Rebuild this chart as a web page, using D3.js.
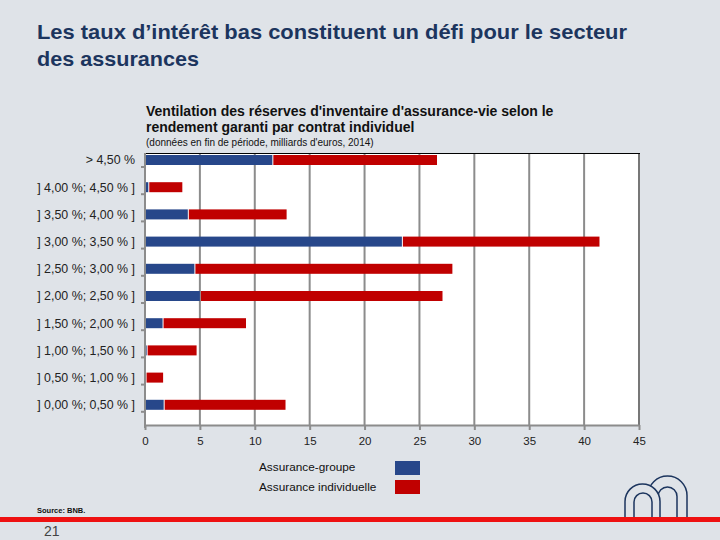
<!DOCTYPE html>
<html><head><meta charset="utf-8">
<script src="https://cdn.jsdelivr.net/npm/d3@7"></script>
<style>
html,body{margin:0;padding:0;background:#dfe3e8;}
svg{display:block;font-family:"Liberation Sans",Arial,sans-serif;}
</style></head>
<body>
<svg id="chart" width="720" height="540"></svg>
<script>
const categories = ["> 4,50 %", "] 4,00 %; 4,50 % ]", "] 3,50 %; 4,00 % ]", "] 3,00 %; 3,50 % ]", "] 2,50 %; 3,00 % ]",
  "] 2,00 %; 2,50 % ]", "] 1,50 %; 2,00 % ]", "] 1,00 %; 1,50 % ]", "] 0,50 %; 1,00 % ]", "] 0,00 %; 0,50 % ]"];
const assuranceGroupe = [11.6, 0.3, 3.9, 23.4, 4.5, 5.0, 1.6, 0.15, 0.05, 1.7];
const assuranceIndividuelle = [15.0, 3.1, 9.0, 18.0, 23.5, 22.1, 7.6, 4.55, 1.6, 11.1];
const seriesNames = ["Assurance-groupe", "Assurance individuelle"];
const xTicks = [0, 5, 10, 15, 20, 25, 30, 35, 40, 45];
const colors = ["#27478a", "#c00000"];

const svg = d3.select("#chart");
svg.append("rect").attr("width", 720).attr("height", 540).attr("fill", "#dfe3e8");

// Titles
const t = svg.append("text").attr("x", 37).attr("fill", "#1c355e").attr("font-size", 21).attr("font-weight", "bold");
t.append("tspan").attr("x", 37).attr("y", 39).attr("textLength", 590).attr("lengthAdjust", "spacingAndGlyphs")
  .text("Les taux d’intérêt bas constituent un défi pour le secteur");
t.append("tspan").attr("x", 37).attr("y", 66).attr("textLength", 162).attr("lengthAdjust", "spacingAndGlyphs")
  .text("des assurances");

const st = svg.append("text").attr("fill", "#111").attr("font-size", 14).attr("font-weight", "bold");
st.append("tspan").attr("x", 146).attr("y", 116).text("Ventilation des réserves d'inventaire d'assurance-vie selon le");
st.append("tspan").attr("x", 146).attr("y", 132).text("rendement garanti par contrat individuel");
svg.append("text").attr("x", 146).attr("y", 146).attr("font-size", 10).attr("fill", "#111")
  .text("(données en fin de période, milliards d'euros, 2014)");

// Scales
const x = d3.scaleLinear().domain([0, 45]).range([145, 639]);
const y = d3.scaleBand().domain(categories).range([153, 425]).paddingInner(0).paddingOuter(0);

// Plot area
svg.append("rect").attr("x", x(0)).attr("y", 153).attr("width", x(45) - x(0)).attr("height", 272).attr("fill", "#fff");

// Gridlines
svg.append("g").selectAll("line").data(xTicks.filter(d => d > 0)).join("line")
  .attr("x1", d => x(d)).attr("x2", d => x(d)).attr("y1", 153).attr("y2", 425)
  .attr("stroke", d => d === 45 ? "#777" : "#8c8c8c").attr("stroke-width", 2);
svg.append("line").attr("x1", x(0)).attr("x2", x(45) + 1).attr("y1", 153.5).attr("y2", 153.5).attr("stroke", "#000").attr("stroke-width", 1);

// Bars
const barOff = 2, barH = 10;
const rows = categories.map((c, i) => ({ c, g: assuranceGroupe[i], ind: assuranceIndividuelle[i] }));
const bars = svg.append("g");
bars.selectAll("rect.g").data(rows).join("rect").attr("class", "g")
  .attr("x", x(0)).attr("y", d => y(d.c) + barOff)
  .attr("width", d => x(d.g) - x(0)).attr("height", barH).attr("fill", colors[0]);
bars.selectAll("rect.i").data(rows).join("rect").attr("class", "i")
  .attr("x", d => x(d.g) + 1).attr("y", d => y(d.c) + barOff)
  .attr("width", d => x(d.g + d.ind) - x(d.g) - 1).attr("height", barH).attr("fill", colors[1]);

// X axis
const xAxis = svg.append("g").attr("transform", "translate(0,425)")
  .call(d3.axisBottom(x).tickValues(xTicks).tickSize(5).tickSizeOuter(0).tickFormat(d3.format("d")));
xAxis.select(".domain").attr("stroke", "#8c8c8c").attr("stroke-width", 2);
xAxis.selectAll(".tick line").attr("stroke", "#8c8c8c").attr("stroke-width", 2);
xAxis.selectAll(".tick text").attr("font-size", 11.5).attr("fill", "#222").attr("dy", "1.0em")
  .attr("font-family", "Liberation Sans, Arial, sans-serif");

// Y axis line and ticks
svg.append("line").attr("x1", 145).attr("x2", 145).attr("y1", 153).attr("y2", 428).attr("stroke", "#8c8c8c").attr("stroke-width", 2);
svg.append("g").selectAll("line").data(categories).join("line")
  .attr("x1", 141).attr("x2", 145).attr("y1", d => y(d) + 14).attr("y2", d => y(d) + 14)
  .attr("stroke", "#8c8c8c").attr("stroke-width", 2);
svg.append("g").selectAll("text").data(categories).join("text")
  .attr("x", 135).attr("y", d => y(d) + barOff + barH / 2).attr("dy", "0.35em")
  .attr("text-anchor", "end").attr("font-size", 12.4).attr("fill", "#222").text(d => d);

// Legend
const lg = svg.append("g");
seriesNames.forEach((n, i) => {
  lg.append("text").attr("x", 259).attr("y", 471 + i * 20).attr("font-size", 11.8).attr("fill", "#111").text(n);
  lg.append("rect").attr("x", 395).attr("y", 461 + i * 19).attr("width", 25).attr("height", 14).attr("fill", colors[i]);
});

// Footer
svg.append("text").attr("x", 37).attr("y", 513).attr("font-size", 7.5).attr("font-weight", "bold").attr("fill", "#111").text("Source: BNB.");
svg.append("rect").attr("x", 0).attr("y", 517).attr("width", 720).attr("height", 5).attr("fill", "#ee1111");
svg.append("text").attr("x", 44).attr("y", 536).attr("font-size", 14).attr("fill", "#444").text("21");

// Logo
const logo = svg.append("g").attr("fill", "none").attr("stroke", "#1c355e").attr("stroke-width", 1.5);
function arch(l, r, top, bottom) {
  const rad = (r - l) / 2;
  return `M${l},${bottom} L${l},${top + rad} A${rad},${rad} 0 0 1 ${r},${top + rad} L${r},${bottom}`;
}
logo.append("path").attr("d", arch(648, 687, 476, 517));
logo.append("path").attr("d", arch(658, 677, 487, 517));
logo.append("path").attr("d", arch(625, 660, 484, 517) + " Z").attr("fill", "#dfe3e8").attr("stroke", "none");
logo.append("path").attr("d", arch(625, 660, 484, 517));
logo.append("path").attr("d", arch(634, 652, 493, 517));
</script>
</body></html>
